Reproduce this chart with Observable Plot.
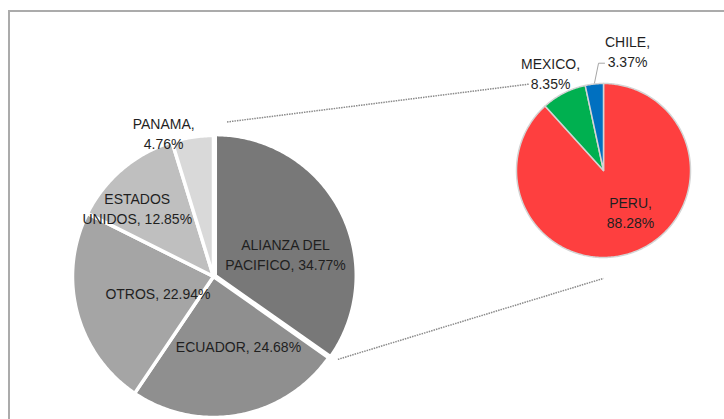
<!DOCTYPE html>
<html>
<head>
<meta charset="utf-8">
<script src="https://cdn.jsdelivr.net/npm/d3@7"></script>
<script src="https://cdn.jsdelivr.net/npm/@observablehq/plot@0.6"></script>
<style>
  html, body { margin: 0; padding: 0; background: #fff; overflow: hidden; }
  #wrap { position: relative; width: 724px; height: 419px; overflow: hidden; }
  #frame { position: absolute; left: 8px; top: 10px; width: 760px; height: 460px; border: 2px solid #ababab; box-sizing: border-box; }
  #chart { position: absolute; left: 0; top: 0; }
</style>
</head>
<body>
<div id="wrap"><div id="frame"></div><div id="chart"></div></div>
<script>
// ---- data ----
const mainCategories = ["ALIANZA DEL PACIFICO", "ECUADOR", "OTROS", "ESTADOS UNIDOS", "PANAMA"];
const mainValues = [34.77, 24.68, 22.94, 12.85, 4.76];
const mainLabels = ["ALIANZA DEL\nPACIFICO, 34.77%", "ECUADOR, 24.68%", "OTROS, 22.94%", "ESTADOS\nUNIDOS, 12.85%", "PANAMA,\n4.76%"];
const subCategories = ["PERU", "MEXICO", "CHILE"];
const subValues = [88.28, 8.35, 3.37];
const subLabels = ["PERU,\n88.28%", "MEXICO,\n8.35%", "CHILE,\n3.37%"];

// ---- styles / layout ----
const mainColors = ["#787878", "#8f8f8f", "#a5a5a5", "#bfbfbf", "#d9d9d9"];
const subColors = ["#fe3f3f", "#00b050", "#0070c0"];
const mainGeom = {cx: 213, cy: 276, r: 141};
const subGeom = {cx: 603, cy: 170, r: 87};
const mainExplode = [2, 0, 0, 0, 0];
// label placement: angle (deg, clockwise from top) and radius fraction
const mainLabelLayout = [{a: 72.3, f: 0.536}, {a: 160.1, f: 0.52}, {a: 254, f: 0.41}, {a: 312.2, f: 0.73}, {a: 340.9, f: 1.08}];
const subLabelLayout = [{a: 146.6, f: 0.565}, {a: 331.6, f: 1.28}, {a: 11.3, f: 1.41}];

const deg = Math.PI / 180;
const polar = (g, a, rr) => [g.cx + rr * Math.sin(a * deg), g.cy - rr * Math.cos(a * deg)];

function slicePolys(values, names, g, explode) {
  const total = d3.sum(values);
  let acc = 0;
  const rows = [], angles = [];
  values.forEach((v, i) => {
    const a0 = acc / total * 360, a1 = (acc + v) / total * 360;
    acc += v;
    angles.push({a0, a1, mid: (a0 + a1) / 2});
    const e = explode ? explode[i] : 0;
    const [ox, oy] = [e * Math.sin((a0 + a1) / 2 * deg), -e * Math.cos((a0 + a1) / 2 * deg)];
    const n = Math.max(4, Math.ceil((a1 - a0) / 0.75));
    rows.push({name: names[i], x: g.cx + ox, y: g.cy + oy});
    for (let j = 0; j <= n; j++) {
      const [x, y] = polar(g, a0 + (a1 - a0) * j / n, g.r);
      rows.push({name: names[i], x: x + ox, y: y + oy});
    }
    rows.push({name: names[i], x: g.cx + ox, y: g.cy + oy});
  });
  return {rows, angles};
}

const main = slicePolys(mainValues, mainCategories, mainGeom, mainExplode);
const sub = slicePolys(subValues, subCategories, subGeom, null);

const mainText = mainLabels.map((t, i) => {
  const [x, y] = polar(mainGeom, mainLabelLayout[i].a, mainLabelLayout[i].f * mainGeom.r);
  return {t, x, y};
});
const subText = subLabels.map((t, i) => {
  const [x, y] = polar(subGeom, subLabelLayout[i].a, subLabelLayout[i].f * subGeom.r);
  return {t, x, y};
});

// series lines joining the aggregated slice to the second pie
const agg = main.angles[0];
const topStart = polar(mainGeom, agg.a0 + 5, mainGeom.r * 1.1);
const topEndFull = [subGeom.cx, subGeom.cy - subGeom.r * 1.1];
const mexLabel = subText[1];
const stopX = mexLabel.x - 21;
const tt = (stopX - topStart[0]) / (topEndFull[0] - topStart[0]);
const topEnd = [stopX, topStart[1] + tt * (topEndFull[1] - topStart[1])];
const botStart = polar(mainGeom, agg.a1 - 1.5, mainGeom.r * 1.06);
const botEnd = [subGeom.cx, subGeom.cy + subGeom.r * 1.24];
const seriesLines = [
  {x1: topStart[0], y1: topStart[1], x2: topEnd[0], y2: topEnd[1]},
  {x1: botStart[0], y1: botStart[1], x2: botEnd[0], y2: botEnd[1]}
];

// leader line for CHILE
const chile = sub.angles[2];
const chileLab = subText[2];
const leaderStart = polar(subGeom, chile.mid, subGeom.r);
const leader = [
  {x: leaderStart[0], y: leaderStart[1]},
  {x: chileLab.x - 29, y: chileLab.y + 13},
  {x: chileLab.x - 23, y: chileLab.y + 13}
];

const font = "'Liberation Sans', Arial, sans-serif";

const plot = Plot.plot({
  width: 724,
  height: 419,
  margin: 0,
  x: {domain: [0, 724], range: [0, 724], axis: null},
  y: {domain: [0, 419], range: [0, 419], axis: null},
  color: {domain: [...mainCategories, ...subCategories], range: [...mainColors, ...subColors]},
  style: {background: "transparent", fontFamily: font},
  marks: [
    Plot.link(seriesLines, {x1: "x1", y1: "y1", x2: "x2", y2: "y2", stroke: "#8a8a8a", strokeWidth: 1.5, strokeDasharray: "1.5,1"}),
    Plot.line(leader, {x: "x", y: "y", stroke: "#a6a6a6", strokeWidth: 1}),
    Plot.line(main.rows, {x: "x", y: "y", z: "name", fill: "name", stroke: "white", strokeWidth: 3.5, strokeLinejoin: "round", curve: "linear"}),
    Plot.line(sub.rows, {x: "x", y: "y", z: "name", fill: "name", stroke: "#d4d4d4", strokeWidth: 1.5, strokeLinejoin: "round", curve: "linear"}),
    Plot.text(mainText, {x: "x", y: "y", text: "t", fontSize: 14, fill: "#1f1f1f", lineHeight: 1.43, lineAnchor: "middle"}),
    Plot.text(subText, {x: "x", y: "y", text: "t", fontSize: 14, fill: "#1f1f1f", lineHeight: 1.43, lineAnchor: "middle"})
  ]
});
document.getElementById("chart").appendChild(plot);
</script>
</body>
</html>
